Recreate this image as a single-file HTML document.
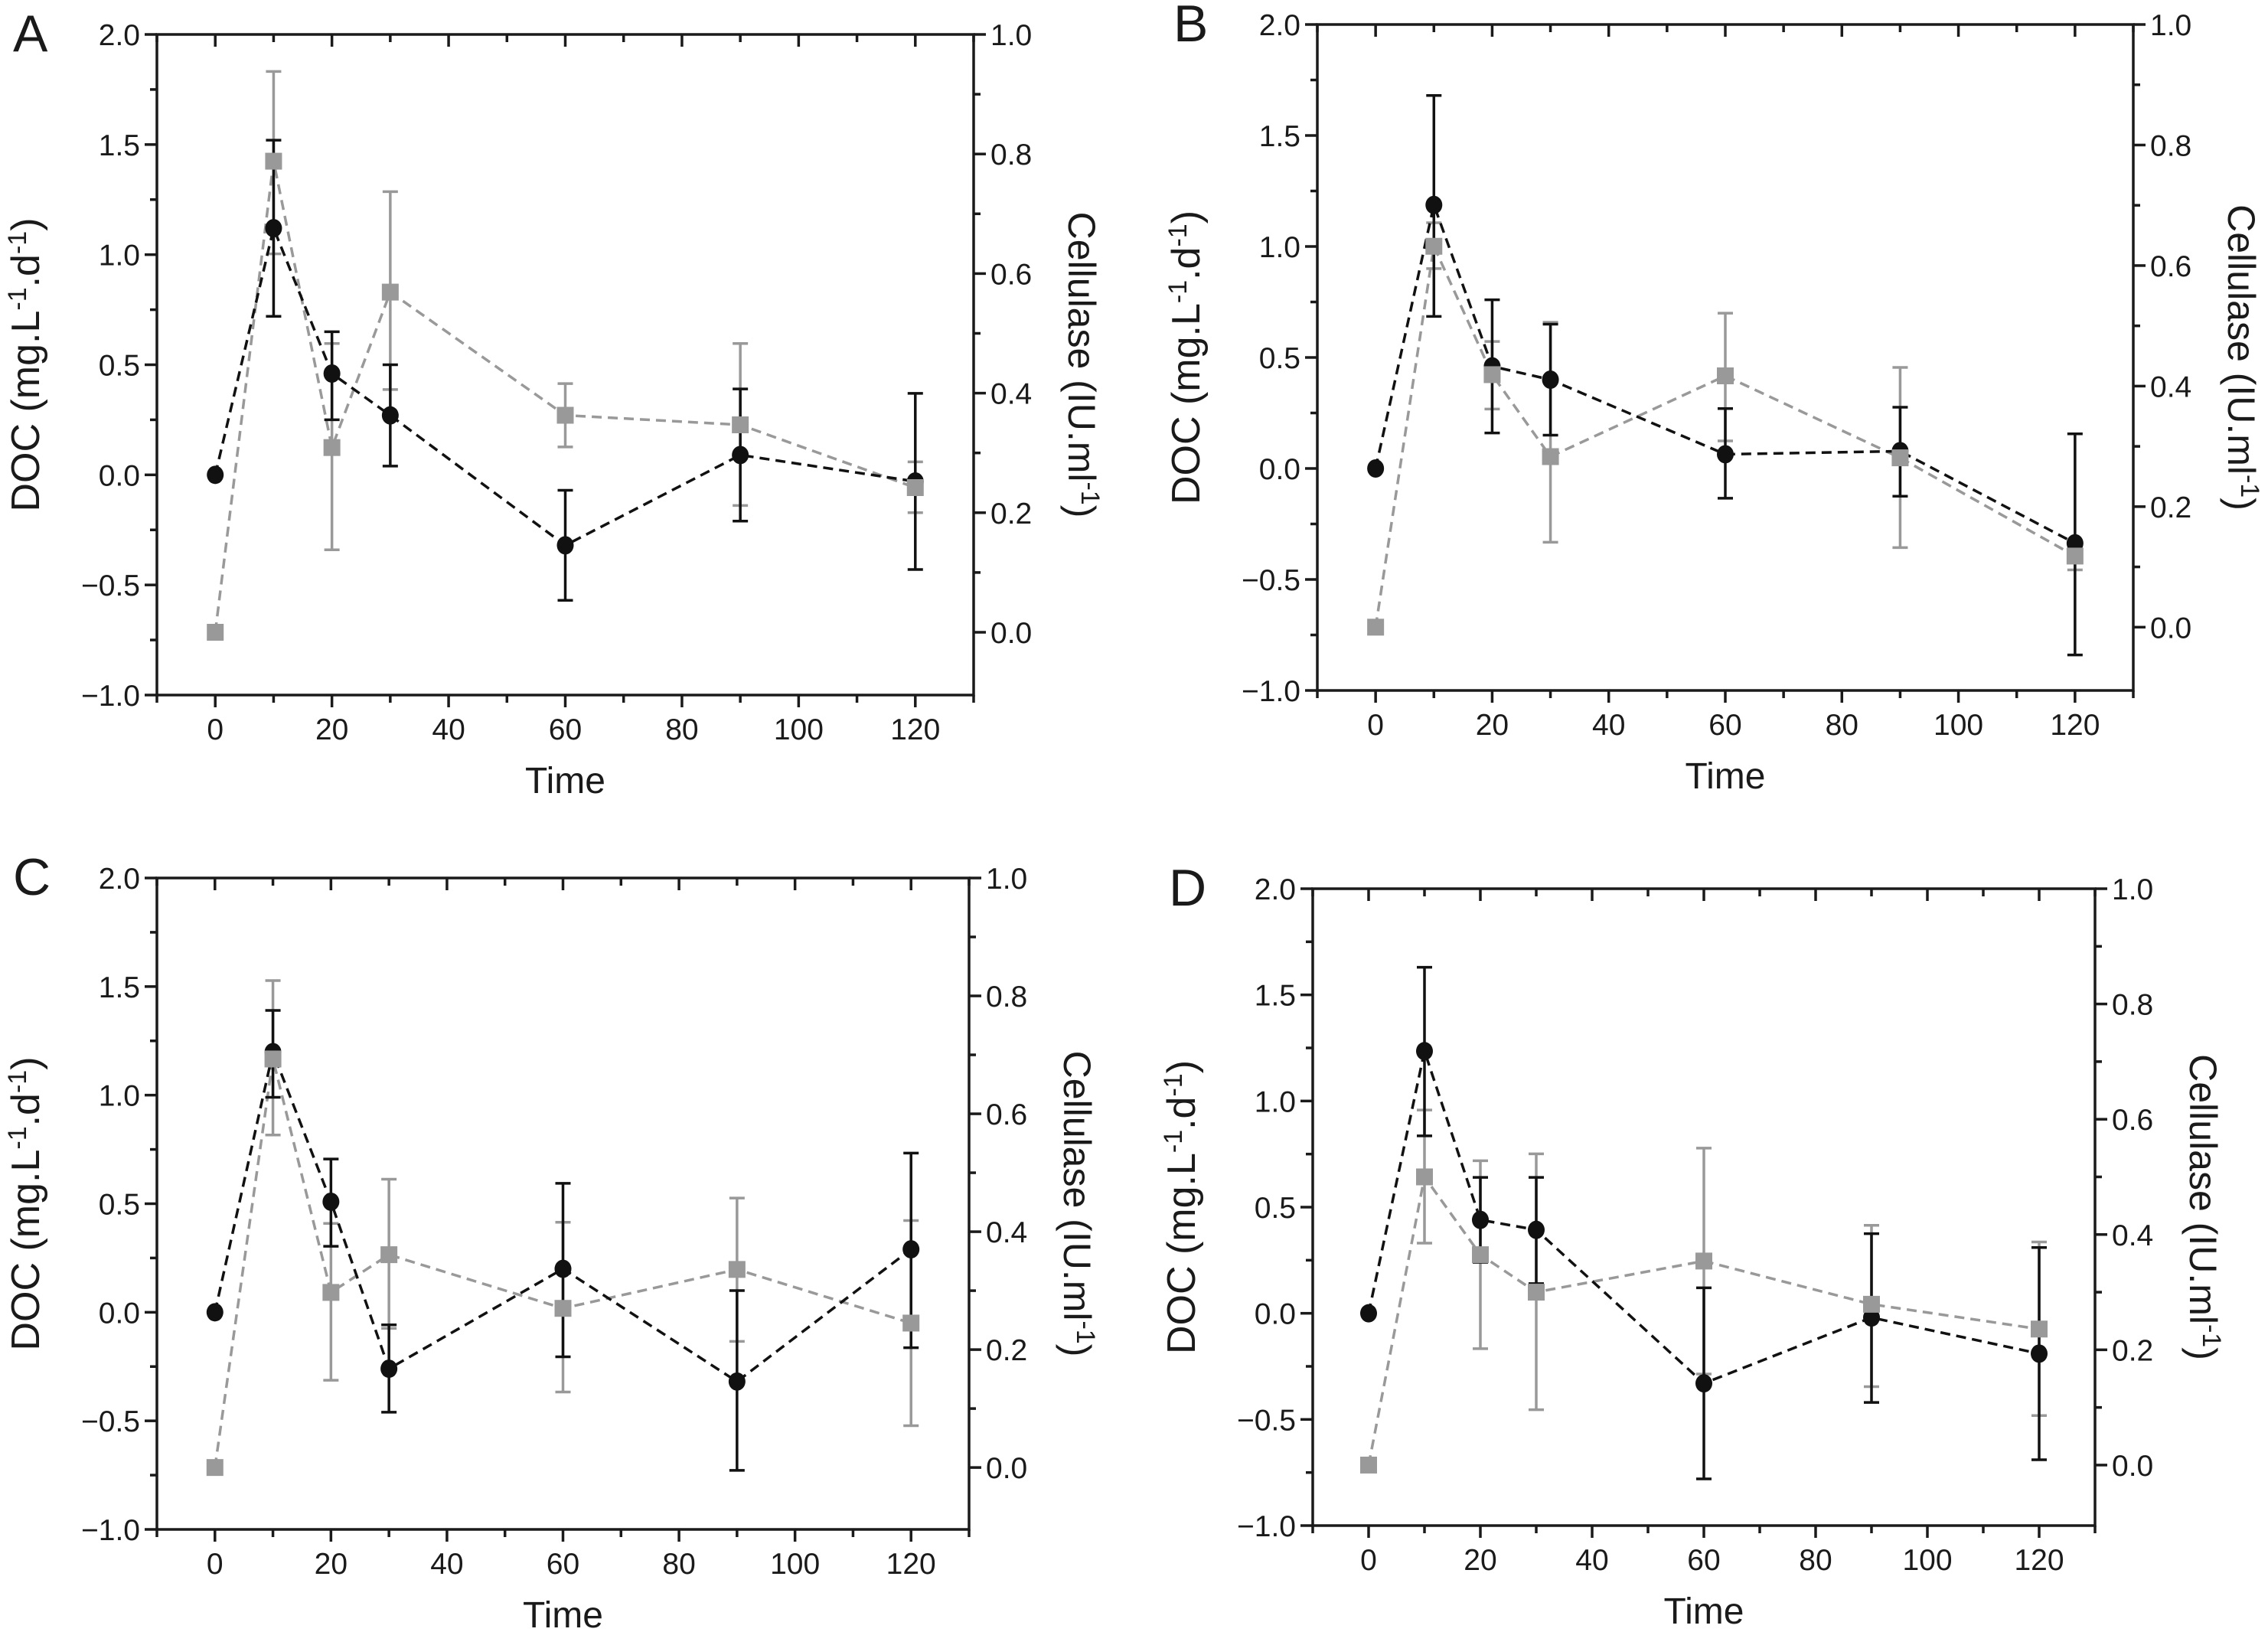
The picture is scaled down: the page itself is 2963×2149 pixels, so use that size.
<!DOCTYPE html>
<html><head><meta charset="utf-8"><style>
html,body{margin:0;padding:0;background:#fff;}
svg{display:block;}
text{font-family:"Liberation Sans Narrow","Liberation Sans",sans-serif;fill:#1a1a1a;}
</style></head><body>
<svg id="fig" width="2963" height="2149" viewBox="0 0 2963 2149" xmlns="http://www.w3.org/2000/svg"></svg>
<script>
const times = [0,10,20,30,60,90,120];
const docA = [0,1.12,0.46,0.27,-0.32,0.09,-0.03];
const docAHi = [0,1.52,0.65,0.50,-0.07,0.39,0.37];
const docALo = [0,0.72,0.25,0.04,-0.57,-0.21,-0.43];
const celA = [0,0.788,0.309,0.569,0.363,0.347,0.242];
const celAHi = [0,0.938,0.483,0.737,0.416,0.483,0.285];
const celALo = [0,0.633,0.138,0.406,0.310,0.212,0.200];
const docB = [0,1.187,0.46,0.40,0.064,0.078,-0.337];
const docBHi = [0,1.68,0.76,0.65,0.27,0.276,0.156];
const docBLo = [0,0.685,0.16,0.15,-0.134,-0.125,-0.84];
const celB = [0,0.632,0.419,0.283,0.417,0.281,0.118];
const celBHi = [0,0.671,0.474,0.506,0.521,0.431,0.137];
const celBLo = [0,0.595,0.362,0.141,0.309,0.132,0.095];
const docC = [0,1.198,0.509,-0.26,0.20,-0.319,0.29];
const docCHi = [0,1.39,0.706,-0.058,0.594,0.10,0.733];
const docCLo = [0,0.99,0.304,-0.46,-0.205,-0.728,-0.163];
const celC = [0,0.693,0.297,0.361,0.27,0.336,0.245];
const celCHi = [0,0.826,0.414,0.489,0.416,0.457,0.419];
const celCLo = [0,0.564,0.148,0.236,0.128,0.214,0.071];
const docD = [0,1.235,0.44,0.393,-0.33,-0.02,-0.19];
const docDHi = [0,1.63,0.64,0.64,0.12,0.375,0.31];
const docDLo = [0,0.836,0.24,0.14,-0.78,-0.42,-0.69];
const celD = [0,0.50,0.365,0.30,0.354,0.279,0.236];
const celDHi = [0,0.616,0.528,0.54,0.55,0.416,0.387];
const celDLo = [0,0.385,0.202,0.096,0.158,0.136,0.086];
const xTicks = [0,20,40,60,80,100,120];
const yLeftTicks = ["−1.0","−0.5","0.0","0.5","1.0","1.5","2.0"];
const yRightTicks = ["0.0","0.2","0.4","0.6","0.8","1.0"];

const NS="http://www.w3.org/2000/svg";
const svg=document.getElementById('fig');
function mk(tag,attrs,parent){const e=document.createElementNS(NS,tag);for(const k in attrs)e.setAttribute(k,attrs[k]);(parent||svg).appendChild(e);return e;}

const panels=[
 {id:'a',label:'A',L:205,R:1272,T:45,B:908,doc:docA,dh:docAHi,dl:docALo,cel:celA,ch:celAHi,cl:celALo},
 {id:'b',label:'B',L:1721,R:2787,T:32,B:902,doc:docB,dh:docBHi,dl:docBLo,cel:celB,ch:celBHi,cl:celBLo},
 {id:'c',label:'C',L:205,R:1266,T:1147,B:1998,doc:docC,dh:docCHi,dl:docCLo,cel:celC,ch:celCHi,cl:celCLo},
 {id:'d',label:'D',L:1715,R:2737,T:1161,B:1993,doc:docD,dh:docDHi,dl:docDLo,cel:celD,ch:celDHi,cl:celDLo}
];

panels.forEach(p=>{
  const g=mk('g',{});
  
  
  const xs=v=>p.L+(v+10)/140*(p.R-p.L);
  const yl=v=>p.B-(v+1)/3*(p.B-p.T);
  const yr=v=>p.B-(v+0.105)/1.105*(p.B-p.T);
  const fr=mk('rect',{x:p.L,y:p.T,width:p.R-p.L,height:p.B-p.T,fill:'none',stroke:'#1a1a1a','stroke-width':3.5},g);
  
  
  for(let v=-10;v<=130;v+=10){
    const major=(v%20===0);
    const x=xs(v);
    mk('line',{x1:x,y1:p.B,x2:x,y2:p.B+(major?16:10),stroke:'#1a1a1a','stroke-width':3.5},g);
    mk('line',{x1:x,y1:p.T,x2:x,y2:p.T+(major?16:10),stroke:'#1a1a1a','stroke-width':3.5},g);
  }
  xTicks.forEach(v=>{
    const t=mk('text',{x:xs(v),y:p.B+58,'font-size':39,'text-anchor':'middle'},g);
    t.textContent=v;
    
    
  });
  for(let i=0;i<=12;i++){
    const v=-1+i*0.25;const major=(i%2===0);const y=yl(v);
    mk('line',{x1:p.L-(major?16:9),y1:y,x2:p.L,y2:y,stroke:'#1a1a1a','stroke-width':3.5},g);
  }
  yLeftTicks.forEach((s,i)=>{
    const t=mk('text',{x:p.L-22,y:yl(-1+i*0.5)+14,'font-size':39,'text-anchor':'end'},g);
    t.textContent=s;
    
    
  });
  for(let i=0;i<=10;i++){
    const v=i*0.1;const major=(i%2===0);const y=yr(v);
    mk('line',{x1:p.R,y1:y,x2:p.R+(major?16:9),y2:y,stroke:'#1a1a1a','stroke-width':3.5},g);
  }
  yRightTicks.forEach((s,i)=>{
    const t=mk('text',{x:p.R+22,y:yr(i*0.2)+14,'font-size':39,'text-anchor':'start'},g);
    t.textContent=s;
    
    
  });
  const cx=(p.L+p.R)/2, cy=(p.T+p.B)/2;
  const xt=mk('text',{x:cx,y:p.B+128,'font-size':48,'text-anchor':'middle'},g);
  xt.textContent='Time';
  
  
  const ltx=p.L-154;
  const lt=mk('text',{x:ltx,y:cy,'font-size':52,'text-anchor':'middle',transform:`rotate(-90 ${ltx} ${cy})`},g);
  lt.innerHTML='DOC (mg.L<tspan dy="-17" font-size="34">-1</tspan><tspan dy="17">.d</tspan><tspan dy="-17" font-size="34">-1</tspan><tspan dy="17">)</tspan>';
  
  
  const rtx=p.R+124;
  const rt=mk('text',{x:rtx,y:cy,'font-size':50,'text-anchor':'middle',transform:`rotate(90 ${rtx} ${cy})`},g);
  rt.innerHTML='Cellulase (IU.ml<tspan dy="-17" font-size="34">-1</tspan><tspan dy="17">)</tspan>';
  
  
  const pl=mk('text',{x:p.L-188,y:p.T+22,'font-size':68,'text-anchor':'start'},g);
  pl.textContent=p.label;
  
  
  const grey='#999999';
  const cp=times.map((t,i)=>xs(t)+','+yr(p.cel[i])).join(' ');
  const cl=mk('polyline',{points:cp,fill:'none',stroke:grey,'stroke-width':3.5,'stroke-dasharray':'13 8'},g);
  
  
  times.forEach((t,i)=>{
    if(i===0)return;
    const x=xs(t);
    const e=mk('path',{d:`M${x},${yr(p.ch[i])}V${yr(p.cl[i])}M${x-10},${yr(p.ch[i])}h20M${x-10},${yr(p.cl[i])}h20`,stroke:grey,'stroke-width':3.5,fill:'none'},g);
    
    
  });
  const dp=times.map((t,i)=>xs(t)+','+yl(p.doc[i])).join(' ');
  const dl=mk('polyline',{points:dp,fill:'none',stroke:'#111','stroke-width':3.5,'stroke-dasharray':'13 8'},g);
  
  
  times.forEach((t,i)=>{
    if(i===0)return;
    const x=xs(t);
    const e=mk('path',{d:`M${x},${yl(p.dh[i])}V${yl(p.dl[i])}M${x-10},${yl(p.dh[i])}h20M${x-10},${yl(p.dl[i])}h20`,stroke:'#111','stroke-width':3.5,fill:'none'},g);
    
    
  });
  times.forEach((t,i)=>{
    const c=mk('ellipse',{cx:xs(t),cy:yl(p.doc[i]),rx:11,ry:12,fill:'#111'},g);
    
    
  });
  times.forEach((t,i)=>{
    const s=mk('rect',{x:xs(t)-11,y:yr(p.cel[i])-11,width:22,height:22,fill:grey},g);
    
    
  });
});
</script>
</body></html>
